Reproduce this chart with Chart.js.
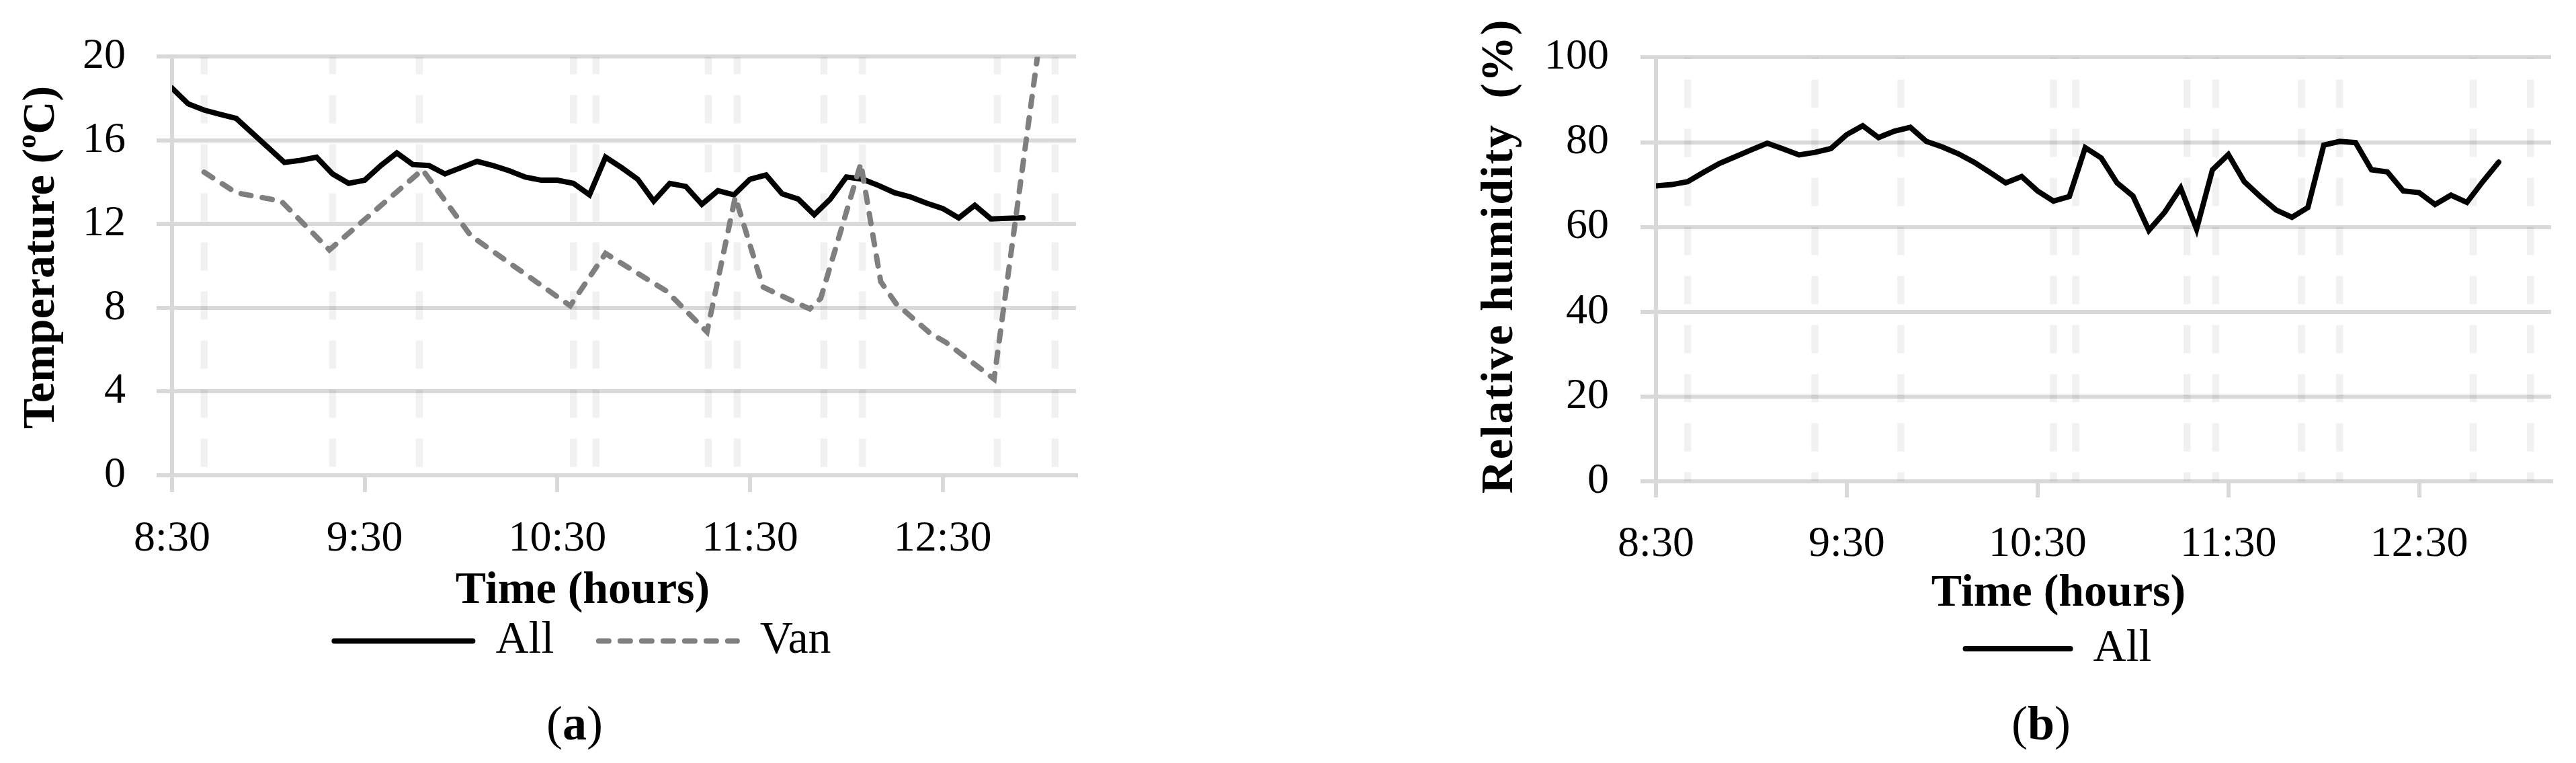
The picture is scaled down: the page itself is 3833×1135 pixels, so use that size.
<!DOCTYPE html>
<html>
<head>
<meta charset="utf-8">
<script src="https://cdn.jsdelivr.net/npm/chart.js@4.4.1/dist/chart.umd.min.js"></script>
<style>
html, body { margin: 0; padding: 0; background: #fff; }
body { width: 3833px; height: 1135px; position: relative; overflow: hidden; }
canvas { position: absolute; top: 0; }
.panel-label { position: absolute; top: 1040px; width: 200px; text-align: center;
  font: 72px/72px "Liberation Serif", "Times New Roman", serif; color: #000; }
</style>
</head>
<body>
<canvas id="chartA" width="1700" height="1135" style="left:0px"></canvas>
<canvas id="chartB" width="2033" height="1135" style="left:1800px"></canvas>
<div class="panel-label" style="left:755px">(<b>a</b>)</div>
<div class="panel-label" style="left:2937px">(<b>b</b>)</div>
<script>
// ---------------- data (minutes after 8:30) ----------------
const timeMinutes = [0, 5, 10, 15, 20, 25, 30, 35, 40, 45, 50, 55, 60, 65, 70, 75, 80, 85, 90, 95,
  100, 105, 110, 115, 120, 125, 130, 135, 140, 145, 150, 155, 160, 165, 170, 175, 180, 185, 190, 195,
  200, 205, 210, 215, 220, 225, 230, 235, 240, 245, 250, 255, 260, 265];

const tempAll = [18.5, 17.75, 17.45, 17.25, 17.05, 16.35, 15.65, 14.95, 15.05, 15.2,
  14.4, 13.95, 14.1, 14.8, 15.4, 14.85, 14.8, 14.4, 14.7, 15.0,
  14.8, 14.55, 14.25, 14.1, 14.1, 13.95, 13.4, 15.2, 14.7, 14.15,
  13.1, 13.95, 13.8, 12.95, 13.6, 13.4, 14.15, 14.35, 13.45, 13.2,
  12.45, 13.2, 14.25, 14.15, 13.85, 13.5, 13.3, 13.0, 12.75, 12.3,
  12.9, 12.25, 12.28, 12.3];

const vanMinutes = [10, 20, 34, 49, 78, 93, 124, 135, 154, 166.6, 175.4, 184, 189.5, 198.6, 202,
  214.5, 220.7, 225.5, 236, 241, 256, 269.5];
const vanTemp = [14.48, 13.5, 13.1, 10.77, 14.6, 11.45, 8.1, 10.6, 8.8, 6.85, 13.3, 9.0, 8.6, 7.95, 8.45,
  14.9, 9.25, 8.2, 6.8, 6.35, 4.6, 20.0];

const humidityAll = [69.7, 70.0, 70.7, 72.9, 75.0, 76.6, 78.2, 79.75, 78.4, 77.0,
  77.6, 78.5, 81.8, 83.9, 81.1, 82.6, 83.5, 80.2, 78.9, 77.3,
  75.3, 72.9, 70.4, 71.9, 68.5, 66.1, 67.2, 78.7, 76.3, 70.4,
  67.3, 59.2, 63.5, 69.2, 59.5, 73.5, 77.1, 70.7, 67.2, 64.0,
  62.3, 64.6, 79.3, 80.2, 79.9, 73.5, 73.0, 68.5, 68.1, 65.3,
  67.5, 65.8, 70.7, 75.3];

const eventMinutes = [10, 50, 77, 125, 132, 167, 176, 203, 215, 257, 275];

const xTickMinutes = [0, 60, 120, 180, 240];
const xTickLabels = ['8:30', '9:30', '10:30', '11:30', '12:30'];
const xMax = 281.5;
const tempTicks = [0, 4, 8, 12, 16, 20];
const humidityTicks = [0, 20, 40, 60, 80, 100];

// ---------------- helpers ----------------
const FONT = '"Liberation Serif", "Times New Roman", serif';
const GRID = '#d9d9d9';

function pairs(xs, ys) { return xs.map((x, i) => ({ x: x, y: ys[i] })); }

function eventDatasets(yTicks, dashOffset) {
  const lo = yTicks[0], hi = yTicks[yTicks.length - 1];
  return eventMinutes.map(t => ({
    label: '',
    data: [{ x: t, y: hi }, { x: t, y: lo }],
    borderColor: 'rgba(0,0,0,0.055)',
    borderWidth: 10.5,
    borderDash: [42, 31],
    borderDashOffset: dashOffset,
    borderCapStyle: 'butt',
    pointRadius: 0,
    order: 10
  }));
}

function xAxis(tickLen, height) {
  return {
    type: 'linear', min: 0, max: xMax,
    afterBuildTicks: s => { s.ticks = xTickMinutes.map(v => ({ value: v })); },
    afterFit: s => { s.height = height; },
    ticks: {
      autoSkip: false, maxRotation: 0, minRotation: 0, padding: 32, color: '#000',
      font: { family: FONT, size: 64 },
      callback: (v, i) => xTickLabels[i]
    },
    grid: { drawOnChartArea: false, drawTicks: true, tickLength: tickLen, color: GRID, lineWidth: 6 },
    border: { display: true, color: GRID, width: 6 }
  };
}

function yAxis(ticks, width, tickLen, pad) {
  return {
    min: ticks[0], max: ticks[ticks.length - 1],
    afterBuildTicks: s => { s.ticks = ticks.map(v => ({ value: v })); },
    afterFit: s => { s.width = width; },
    ticks: {
      padding: pad, color: '#000', font: { family: FONT, size: 64 },
      callback: (v, i) => String(ticks[i])
    },
    grid: { color: GRID, lineWidth: 6, tickLength: tickLen, drawTicks: true },
    border: { display: true, color: GRID, width: 6 }
  };
}

function makeYTitle(cfg) {
  return {
    id: 'yTitle',
    afterDraw(chart) {
      const ctx = chart.ctx;
      ctx.save();
      ctx.translate(cfg.x, cfg.y);
      ctx.rotate(-Math.PI / 2);
      ctx.fillStyle = '#000';
      ctx.textBaseline = 'alphabetic';
      ctx.textAlign = 'left';
      if (cfg.letterSpacing) ctx.letterSpacing = cfg.letterSpacing;
      const fonts = cfg.parts.map(p => 'bold ' + (cfg.size * (p.scale || 1)) + 'px ' + FONT);
      let total = 0;
      const widths = cfg.parts.map((p, i) => { ctx.font = fonts[i]; const w = ctx.measureText(p.text).width; total += w; return w; });
      let x = -total / 2;
      cfg.parts.forEach((p, i) => {
        ctx.font = fonts[i];
        ctx.fillText(p.text, x, -(p.rise || 0) * cfg.size);
        x += widths[i];
      });
      ctx.restore();
    }
  };
}

// shifts the (full-width) legend box horizontally so it is centred where the original is
function makeLegendShift(dx) {
  return {
    id: 'legendShift',
    afterLayout(chart) {
      if (chart.legend) { chart.legend.left += dx; chart.legend.right += dx; }
    }
  };
}

function legendOpts(boxW, pad, titlePad) {
  return {
    position: 'bottom',
    labels: {
      usePointStyle: true, pointStyle: 'line', pointStyleWidth: boxW, padding: pad, color: '#000',
      font: { family: FONT, size: 68 },
      sort: (a, b) => a.datasetIndex - b.datasetIndex,
      filter: it => it.text !== '',
      generateLabels: chart => {
        const items = Chart.defaults.plugins.legend.labels.generateLabels(chart);
        items.forEach(it => {
          const ds = chart.data.datasets[it.datasetIndex];
          it.lineDash = ds.borderDash || [];
          it.lineDashOffset = 0;
          it.lineCap = 'round';
          it.lineWidth = ds.borderWidth;
          it.strokeStyle = ds.borderColor;
        });
        return items;
      }
    },
    title: {
      display: true, text: 'Time (hours)', color: '#000',
      font: { family: FONT, size: 68, weight: 'bold' },
      padding: titlePad
    }
  };
}

// ---------------- chart (a) ----------------
new Chart(document.getElementById('chartA'), {
  type: 'line',
  data: {
    datasets: [
      { label: 'All', data: pairs(timeMinutes, tempAll), borderColor: '#000', borderWidth: 8,
        borderCapStyle: 'round', pointRadius: 0, order: 2 },
      { label: 'Van', data: pairs(vanMinutes, vanTemp), borderColor: '#7f7f7f', borderWidth: 8,
        borderDash: [15, 17], borderCapStyle: 'round', pointRadius: 0, order: 1 }
    ].concat(eventDatasets(tempTicks, 16))
  },
  options: {
    responsive: false, animation: false, devicePixelRatio: 1, events: [],
    layout: { padding: { left: 118, right: 99, top: 55, bottom: 137.5 } },
    scales: { x: xAxis(25, 134.5), y: yAxis(tempTicks, 138, 23, 46) },
    plugins: {
      tooltip: { enabled: false },
      legend: legendOpts(206, 66.6, { top: 4, bottom: -74.2 })
    }
  },
  plugins: [
    makeYTitle({ x: 80, y: 383, size: 68,
      parts: [{ text: 'Temperature (' }, { text: 'o', scale: 0.62, rise: 0.40 }, { text: 'C)' }] }),
    makeLegendShift(7.5)
  ]
});

// ---------------- chart (b) ----------------
new Chart(document.getElementById('chartB'), {
  type: 'line',
  data: {
    datasets: [
      { label: 'All', data: pairs(timeMinutes, humidityAll), borderColor: '#000', borderWidth: 8,
        borderCapStyle: 'round', pointRadius: 0, order: 1 }
    ].concat(eventDatasets(humidityTicks, 40))
  },
  options: {
    responsive: false, animation: false, devicePixelRatio: 1, events: [],
    layout: { padding: { left: 490, right: 37, top: 64, bottom: 126 } },
    scales: { x: xAxis(24, 130), y: yAxis(humidityTicks, 174, 23, 47) },
    plugins: {
      tooltip: { enabled: false },
      legend: legendOpts(156, 10, { top: 3.5, bottom: -10.1 })
    }
  },
  plugins: [
    makeYTitle({ x: 450, y: 381, size: 68, letterSpacing: '1.8px',
      parts: [{ text: 'Relative humidity  (%)' }] }),
    makeLegendShift(20)
  ]
});
</script>
</body>
</html>
